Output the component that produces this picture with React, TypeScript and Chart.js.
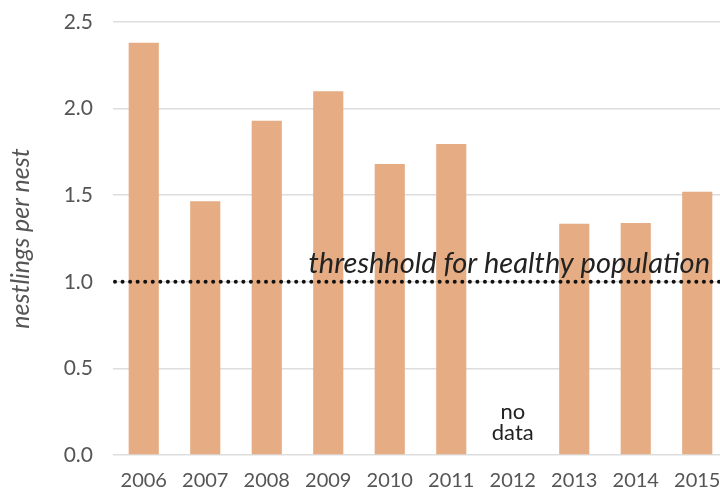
import React, { useEffect, useRef } from "react";
import { Chart, registerables } from "chart.js";

Chart.register(...registerables);

const years = ["2006", "2007", "2008", "2009", "2010", "2011", "2012", "2013", "2014", "2015"];
const nestlings: (number | null)[] = [2.38, 1.465, 1.93, 2.1, 1.68, 1.795, null, 1.335, 1.34, 1.52];
const yTicks = [0, 0.5, 1.0, 1.5, 2.0, 2.5];
const threshold = 1.0;
const thresholdLabel = "threshhold for healthy population";
const noDataYear = "2012";
const noDataLines = ["no", "data"];
const noDataValues = [0.25, 0.125];

const overlay = {
  id: "overlay",
  afterDatasetsDraw(chart: any) {
    const { ctx, chartArea, scales } = chart;
    const x = scales.x;
    const y = scales.y;
    const yT = y.getPixelForValue(threshold);
    ctx.save();
    ctx.fillStyle = "#111";
    for (let px = chartArea.left + 2; px <= 720; px += 7.55) {
      ctx.beginPath();
      ctx.arc(px, yT, 2, 0, Math.PI * 2);
      ctx.fill();
    }
    ctx.font = "italic 29px Lato";
    ctx.fillStyle = "#222";
    ctx.textAlign = "right";
    ctx.textBaseline = "alphabetic";
    ctx.fillText(thresholdLabel, 710, yT - 9);
    const xi = x.getPixelForValue(years.indexOf(noDataYear));
    ctx.font = "22px Lato";
    ctx.textAlign = "center";
    ctx.textBaseline = "middle";
    noDataLines.forEach((t, i) => {
      ctx.fillText(t, xi, y.getPixelForValue(noDataValues[i]));
    });
    ctx.restore();
  },
};

export default function App() {
  const ref = useRef<HTMLCanvasElement>(null);
  useEffect(() => {
    const chart = new Chart(ref.current!, {
      type: "bar",
      data: {
        labels: years,
        datasets: [
          {
            data: nestlings,
            backgroundColor: "#E6AC83",
            borderWidth: 0,
            barPercentage: 0.49,
            categoryPercentage: 1,
          },
        ],
      },
      plugins: [overlay],
      options: {
        animation: false,
        responsive: false,
        maintainAspectRatio: false,
        layout: { padding: { top: 22, right: 7, left: 0, bottom: 0 } },
        plugins: { legend: { display: false }, tooltip: { enabled: false } },
        scales: {
          x: {
            offset: true,
            grid: { display: false, drawTicks: false },
            border: { display: false },
            ticks: { color: "#555", font: { family: "Lato", size: 20 }, padding: 14, maxRotation: 0 },
            afterFit: (s: any) => { s.height = 36; s.paddingLeft = 0; s.paddingRight = 0; },
          },
          y: {
            min: 0,
            max: 2.5,
            afterBuildTicks: (s: any) => { s.ticks = yTicks.map((v) => ({ value: v })); },
            grid: { color: "#dddddd", lineWidth: 1.5, drawTicks: false },
            border: { display: false },
            ticks: {
              color: "#555",
              font: { family: "Lato", size: 21 },
              padding: 20,
              callback: (v: any) => Number(v).toFixed(1),
            },
            title: {
              display: true,
              text: "nestlings per nest",
              color: "#555",
              font: { family: "Lato", size: 25, style: "italic" },
              padding: { top: 6, bottom: 0 },
            },
            afterFit: (s: any) => { s.width = 113; s.paddingTop = 0; s.paddingBottom = 0; },
          },
        },
      },
    });
    return () => chart.destroy();
  }, []);
  return (
    <div style={{ position: "fixed", left: 0, top: 0, width: 720, height: 491, overflow: "hidden", background: "#fff" }}>
      <canvas ref={ref} width={735} height={491} style={{ display: "block" }} />
    </div>
  );
}
